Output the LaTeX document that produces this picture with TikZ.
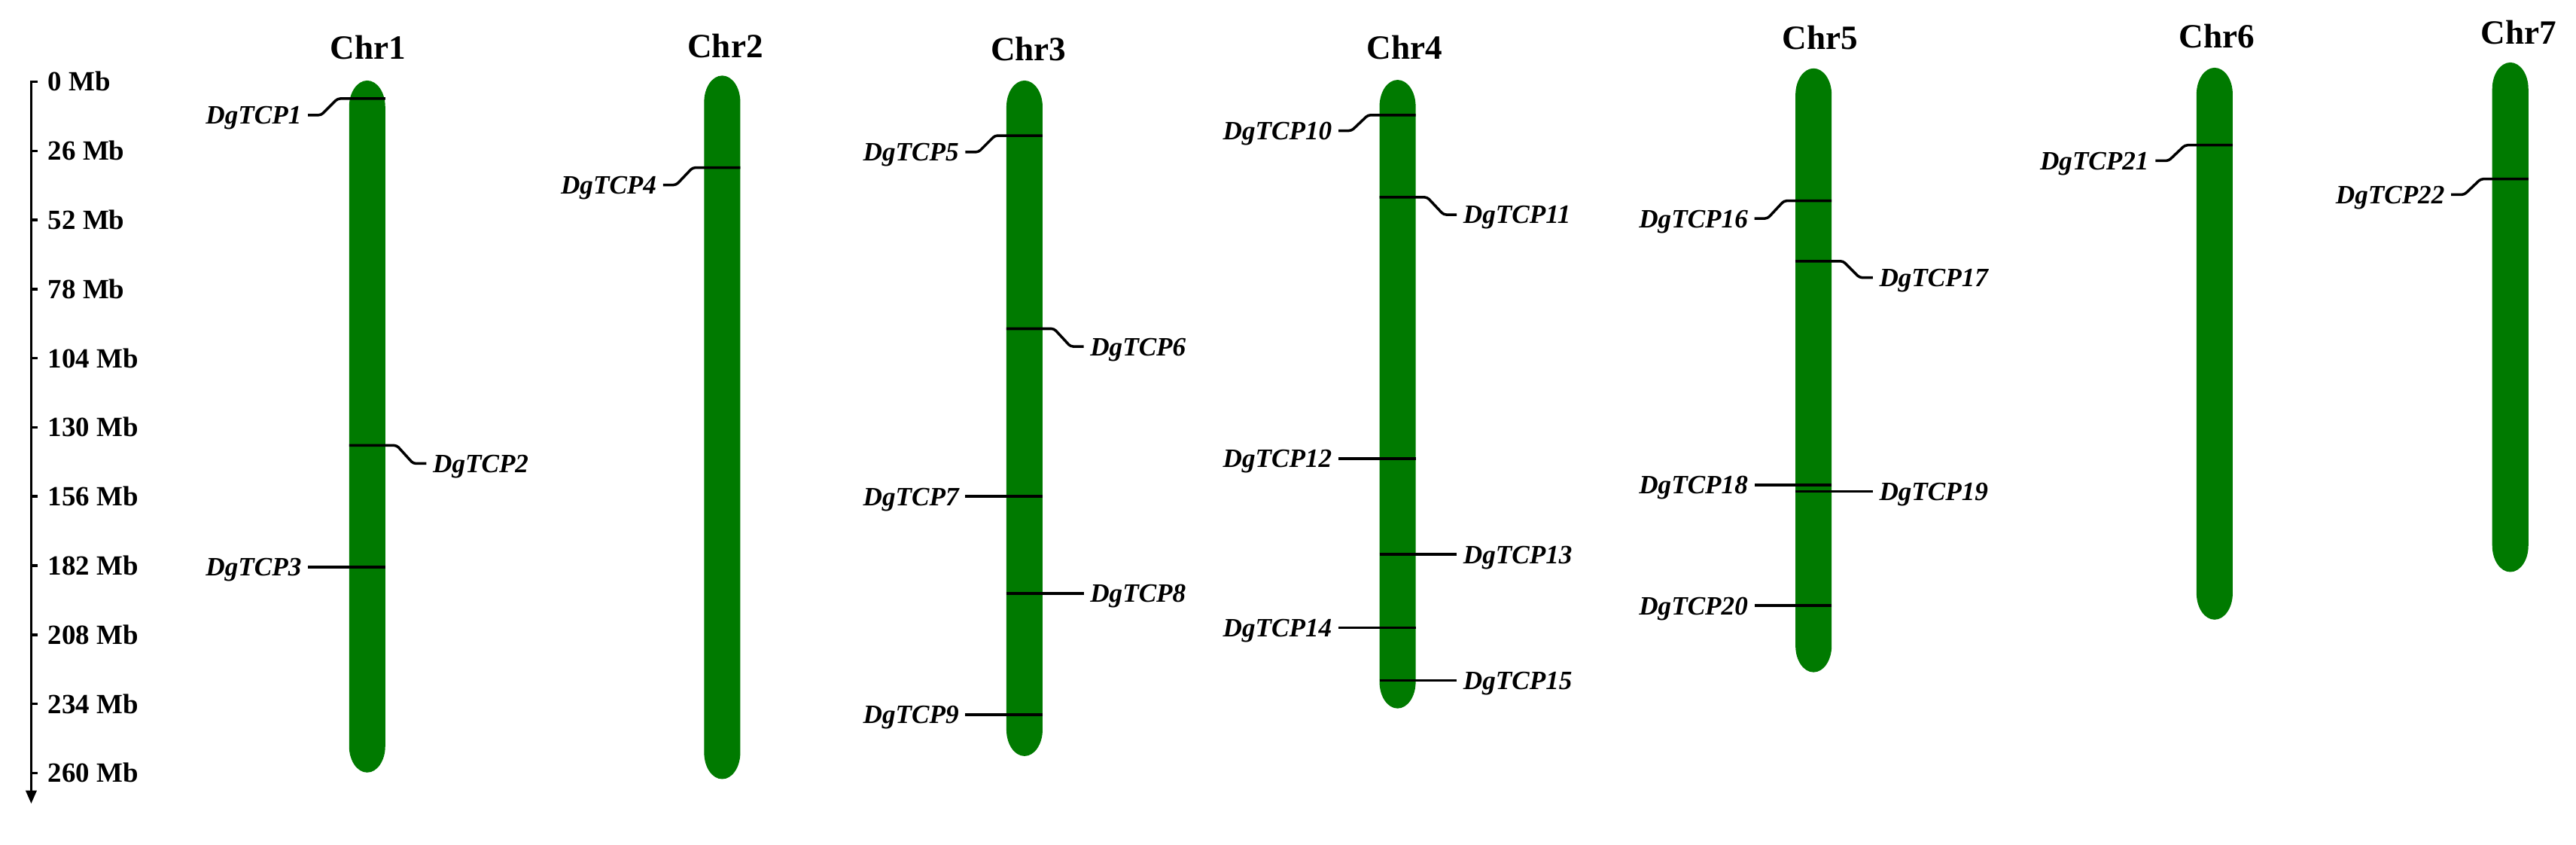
\documentclass[tikz,border=0pt]{standalone}
\usepackage{fontspec}
\setmainfont{Liberation Serif}
\usetikzlibrary{arrows.meta}
\definecolor{chrgreen}{RGB}{0,122,0}
\tikzset{
 chrfill/.style={fill=chrgreen},
 gline/.style={line width=1pt, black, line join=round, rounded corners=1},
 glab/.style={font=\fontsize{10}{12}\selectfont\bfseries\itshape, inner sep=0pt, outer xsep=2.5pt, outer ysep=0pt, text height=6.8pt, text depth=0pt},
 chrlab/.style={font=\fontsize{12.85}{15}\selectfont\bfseries, inner sep=0pt, text height=8.7pt, text depth=0pt},
 sclab/.style={font=\fontsize{10.5}{12}\selectfont\bfseries, inner sep=0pt, text height=7.1pt, text depth=0pt, anchor=west},
 axisline/.style={line width=1pt, black},
}
% chromosome body: centre x, top, bottom
\newcommand\chrom[3]{%
 \fill[chrfill] (#1-11,#2+16) .. controls (#1-11,#2+7.2) and (#1-6.1,#2) .. (#1,#2)
   .. controls (#1+6.1,#2) and (#1+11,#2+7.2) .. (#1+11,#2+16)
   -- (#1+11,#3-16) .. controls (#1+11,#3-7.2) and (#1+6.1,#3) .. (#1,#3)
   .. controls (#1-6.1,#3) and (#1-11,#3-7.2) .. (#1-11,#3-16) -- cycle;}
% gene, label on the left, bent: id, cx, yline, dy, text
\newcommand\gLb[5]{%
 \coordinate (#1c) at (#2+11,#3);
 \node[glab, anchor=east] (#1) at (#2-36,#3+#4) {#5};
 \draw[gline] (#1c) -- ++(-29,0) -- ++(-10,#4) -- (#1.east);}
% gene, label on the left, straight: id, cx, yline, text
\newcommand\gLs[4]{%
 \coordinate (#1c) at (#2+11,#3);
 \node[glab, anchor=east] (#1) at (#2-36,#3) {#4};
 \draw[gline] (#1c) -- (#1.east);}
% gene, label on the right, bent
\newcommand\gRb[5]{%
 \coordinate (#1c) at (#2-11,#3);
 \node[glab, anchor=west] (#1) at (#2+36,#3+#4) {#5};
 \draw[gline] (#1c) -- ++(29,0) -- ++(10,#4) -- (#1.west);}
% gene, label on the right, straight
\newcommand\gRs[4]{%
 \coordinate (#1c) at (#2-11,#3);
 \node[glab, anchor=west] (#1) at (#2+36,#3) {#4};
 \draw[gline] (#1c) -- (#1.west);}
\begin{document}
\begin{tikzpicture}[x=0.02182cm, y=-0.02182cm]
\useasboundingbox (0,0) rectangle (1568,514);

% scale axis
\coordinate (axtop) at (19,49.2);
\coordinate (axbot) at (19,489);
\draw[axisline, -{Triangle[length=5pt,width=4pt]}] (axtop) -- (axbot);
\foreach \k in {0,...,10}{
  \pgfmathtruncatemacro\mbv{26*\k}
  \pgfmathsetmacro\ty{49.7+42.06*\k}
  \coordinate (tk\k) at (19,\ty);
  \draw[axisline] (tk\k) -- ++(3.8,0);
  \node[sclab] (sc\k) at (29,\ty) {\mbv\ Mb};
}

% chromosomes
\chrom{223.5}{49}{470}
\chrom{439.6}{46}{474}
\chrom{623.6}{49}{460}
\chrom{850.7}{48.6}{431}
\chrom{1103.9}{41.6}{409}
\chrom{1348}{41.2}{377}
\chrom{1528}{38}{348}

% chromosome titles
\node[chrlab] (chr1) at (224,29) {Chr1};
\node[chrlab] (chr2) at (441.5,28) {Chr2};
\node[chrlab] (chr3) at (626,29.8) {Chr3};
\node[chrlab] (chr4) at (855,29) {Chr4};
\node[chrlab] (chr5) at (1108,23) {Chr5};
\node[chrlab] (chr6) at (1349.5,22) {Chr6};
\node[chrlab] (chr7) at (1533,19.6) {Chr7};

% genes
\gLb{g1}{223.5}{60}{10}{DgTCP1}
\gRb{g2}{223.5}{271}{11}{DgTCP2}
\gLs{g3}{223.5}{345}{DgTCP3}
\gLb{g4}{439.6}{102}{10.5}{DgTCP4}
\gLb{g5}{623.6}{82.5}{10}{DgTCP5}
\gRb{g6}{623.6}{200}{10.8}{DgTCP6}
\gLs{g7}{623.6}{302}{DgTCP7}
\gRs{g8}{623.6}{361}{DgTCP8}
\gLs{g9}{623.6}{434.8}{DgTCP9}
\gLb{g10}{850.7}{70}{9.5}{DgTCP10}
\gRb{g11}{850.7}{120}{10.6}{DgTCP11}
\gLs{g12}{850.7}{279}{DgTCP12}
\gRs{g13}{850.7}{337.3}{DgTCP13}
\gLs{g14}{850.7}{381.9}{DgTCP14}
\gRs{g15}{850.7}{413.9}{DgTCP15}
\gLb{g16}{1103.9}{122.2}{10.7}{DgTCP16}
\gRb{g17}{1103.9}{158.9}{10}{DgTCP17}
\gLs{g18}{1103.9}{295.1}{DgTCP18}
\gRs{g19}{1103.9}{299}{DgTCP19}
\gLs{g20}{1103.9}{368.5}{DgTCP20}
\gLb{g21}{1348}{88.3}{9.5}{DgTCP21}
\gLb{g22}{1528}{108.9}{9.5}{DgTCP22}
\end{tikzpicture}
\end{document}
